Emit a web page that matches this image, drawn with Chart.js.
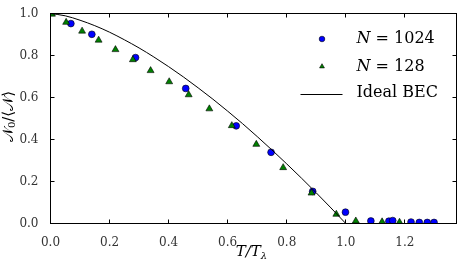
<!DOCTYPE html>
<html>
<head>
<meta charset="utf-8">
<script src="https://cdn.jsdelivr.net/npm/chart.js@4.4.0/dist/chart.umd.min.js"></script>
<style>
    html, body { margin: 0; padding: 0; background: #fff; }
    #wrap { width: 463px; height: 269px; }
</style>
</head>
<body>
<div id="wrap"><canvas id="bec-chart"></canvas></div>
<script>
// condensate fraction vs T/T_lambda
const tN1024 = [0.069, 0.140, 0.288, 0.458, 0.629, 0.747, 0.888, 0.999, 1.085, 1.146, 1.159, 1.221, 1.249, 1.276, 1.299];
const fracN1024 = [0.952, 0.901, 0.790, 0.643, 0.465, 0.339, 0.153, 0.054, 0.012, 0.011, 0.014, 0.007, 0.005, 0.005, 0.005];

const tN128 = [0.005, 0.053, 0.107, 0.163, 0.220, 0.279, 0.339, 0.402, 0.468, 0.538, 0.614, 0.697, 0.788, 0.884, 0.968, 1.034, 1.123, 1.182];
const fracN128 = [0.997, 0.958, 0.916, 0.873, 0.828, 0.780, 0.728, 0.675, 0.613, 0.546, 0.466, 0.377, 0.266, 0.145, 0.044, 0.012, 0.008, 0.006];

const tIdeal = [0.0, 0.05, 0.1, 0.15, 0.2, 0.25, 0.3, 0.35, 0.4, 0.45, 0.5, 0.55, 0.6, 0.65, 0.7, 0.75, 0.8, 0.85, 0.9, 0.95, 1.0];
const fracIdeal = [1.0, 0.989, 0.968, 0.942, 0.911, 0.875, 0.836, 0.793, 0.747, 0.698, 0.646, 0.592, 0.535, 0.476, 0.414, 0.350, 0.284, 0.216, 0.146, 0.074, 0.0];

const xTickValues = [0.0, 0.2, 0.4, 0.6, 0.8, 1.0, 1.2];
const yTickValues = [0.0, 0.2, 0.4, 0.6, 0.8, 1.0];

const legendLabels = ['N = 1024', 'N = 128', 'Ideal BEC'];

const xMin = 0, xMax = 1.375;
const yMin = 0, yMax = 1.0;

function toPoints(xs, ys) {
    return xs.map((x, i) => ({x: x, y: ys[i]}));
}

const serif = '"DejaVu Serif", "Liberation Serif", serif';

// draw a row of text pieces, centred on (cx, cy)
function drawRich(ctx, parts, cx, cy) {
    let total = 0;
    parts.forEach(p => {
        ctx.font = p.font;
        p.w = ctx.measureText(p.t).width;
        total += p.w;
    });
    let x = cx - total / 2;
    ctx.textBaseline = 'middle';
    ctx.textAlign = 'left';
    parts.forEach(p => {
        ctx.font = p.font;
        ctx.fillText(p.t, x, cy + (p.dy || 0));
        x += p.w;
    });
}

// frame with inward ticks on all four sides, like the matplotlib original
const frameTicks = {
    id: 'frameTicks',
    afterDatasetsDraw(chart) {
        const {ctx, chartArea: a, scales} = chart;
        ctx.save();
        ctx.strokeStyle = '#000';
        ctx.lineWidth = 1;
        ctx.strokeRect(a.left, a.top, a.right - a.left, a.bottom - a.top);
        ctx.beginPath();
        scales.x.ticks.forEach(t => {
            const px = Math.round(scales.x.getPixelForValue(t.value) - 0.5) + 0.5;
            ctx.moveTo(px, a.bottom); ctx.lineTo(px, a.bottom - 4);
            ctx.moveTo(px, a.top); ctx.lineTo(px, a.top + 4);
        });
        scales.y.ticks.forEach(t => {
            const py = Math.round(scales.y.getPixelForValue(t.value) - 0.5) + 0.5;
            ctx.moveTo(a.left, py); ctx.lineTo(a.left + 4, py);
            ctx.moveTo(a.right, py); ctx.lineTo(a.right - 4, py);
        });
        ctx.stroke();
        ctx.restore();
    },
    afterDraw(chart) {
        const {ctx, chartArea: a} = chart;
        ctx.save();
        ctx.fillStyle = '#000';

        // x title  T/T_lambda
        drawRich(ctx, [
            {t: 'T/T', font: 'italic 15px ' + serif},
            {t: 'λ', font: 'italic 10px ' + serif, dy: 4}
        ], (a.left + a.right) / 2 - 2, 252);

        // y title  N_0/<N>
        ctx.translate(9, (a.top + a.bottom) / 2 - 2);
        ctx.rotate(-Math.PI / 2);
        drawRich(ctx, [
            {t: '𝒩', font: '15px ' + serif},
            {t: '0', font: '10px ' + serif, dy: 3},
            {t: '/⟨', font: '15px ' + serif},
            {t: '𝒩', font: '15px ' + serif},
            {t: '⟩', font: '15px ' + serif}
        ], 0, 0);
        ctx.setTransform(1, 0, 0, 1, 0, 0);

        // legend, top right inside the axes
        const rows = [39, 66.5, 93];
        const mx = a.right - 134.5;
        const tx = a.right - 100;
        chart.data.datasets.forEach((ds, i) => {
            const y = rows[i];
            ctx.fillStyle = ds.backgroundColor;
            ctx.strokeStyle = ds.borderColor;
            if (ds.showLine) {
                ctx.lineWidth = 1;
                ctx.beginPath();
                ctx.moveTo(a.right - 156, y + 1.5);
                ctx.lineTo(a.right - 114, y + 1.5);
                ctx.stroke();
            } else {
                ctx.lineWidth = 0.6;
                Chart.helpers.drawPoint(ctx, {pointStyle: ds.pointStyle, radius: 2.8, rotation: 0, borderWidth: 0.6}, mx, y);
            }
            ctx.fillStyle = '#000';
            ctx.textBaseline = 'middle';
            ctx.textAlign = 'left';
            const label = legendLabels[i];
            if (label.startsWith('N')) {
                ctx.font = 'italic 16px ' + serif;
                ctx.fillText('N', tx, y);
                const w = ctx.measureText('N').width;
                ctx.font = '16px ' + serif;
                ctx.fillText(label.slice(1), tx + w, y);
            } else {
                ctx.font = '16px ' + serif;
                ctx.fillText(label, tx, y);
            }
        });
        ctx.restore();
    }
};

const config = {
    type: 'scatter',
    data: {
        datasets: [
            {
                label: legendLabels[0],
                data: toPoints(tN1024, fracN1024),
                pointStyle: 'circle',
                pointRadius: 3.4,
                pointBorderWidth: 0.6,
                backgroundColor: '#0000ff',
                borderColor: '#000000',
                clip: 0,
                order: 2
            },
            {
                label: legendLabels[1],
                data: toPoints(tN128, fracN128),
                pointStyle: 'triangle',
                pointRadius: 4,
                pointBorderWidth: 0.6,
                backgroundColor: '#008000',
                borderColor: '#000000',
                clip: 0,
                order: 1
            },
            {
                label: legendLabels[2],
                data: toPoints(tIdeal, fracIdeal),
                showLine: true,
                pointRadius: 0,
                borderWidth: 1,
                borderColor: '#000000',
                backgroundColor: '#000000',
                cubicInterpolationMode: 'monotone',
                clip: 0,
                order: 0
            }
        ]
    },
    options: {
        responsive: true,
        maintainAspectRatio: false,
        animation: false,
        layout: {
            padding: {left: 0, top: 13.5, right: 6.5, bottom: 0}
        },
        plugins: {
            legend: {display: false},
            tooltip: {enabled: false}
        },
        scales: {
            x: {
                type: 'linear',
                bounds: 'data',
                min: xMin,
                max: xMax,
                afterBuildTicks: (scale) => {
                    scale.ticks = xTickValues.map(v => ({value: v}));
                },
                ticks: {
                    padding: 4,
                    color: '#333',
                    font: {family: serif, size: 12},
                    maxRotation: 0,
                    autoSkip: false,
                    callback: (v) => v.toFixed(1)
                },
                grid: {display: false},
                border: {display: false},
                afterFit: (scale) => { scale.height = 45.5; }
            },
            y: {
                type: 'linear',
                bounds: 'data',
                min: yMin,
                max: yMax,
                afterBuildTicks: (scale) => {
                    scale.ticks = yTickValues.map(v => ({value: v}));
                },
                ticks: {
                    padding: 4,
                    color: '#333',
                    font: {family: serif, size: 12},
                    autoSkip: false,
                    callback: (v) => v.toFixed(1)
                },
                grid: {display: false},
                border: {display: false},
                afterFit: (scale) => { scale.width = 50.5; }
            }
        }
    },
    plugins: [frameTicks]
};

new Chart(document.getElementById('bec-chart'), config);
</script>
</body>
</html>
